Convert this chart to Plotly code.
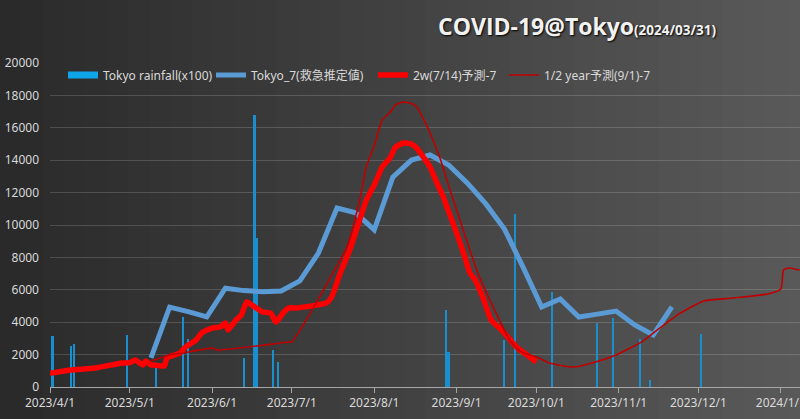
import plotly.graph_objects as go

# ---------------- data ----------------
rain_dates = ["2023-04-02", "2023-04-09", "2023-04-10", "2023-04-30", "2023-05-11",
              "2023-05-21", "2023-05-23", "2023-06-13", "2023-06-17", "2023-06-18",
              "2023-06-24", "2023-06-26", "2023-08-28", "2023-08-29", "2023-09-19",
              "2023-09-23", "2023-10-07", "2023-10-24", "2023-10-30", "2023-11-09",
              "2023-11-13", "2023-12-02"]
rain_x100 = [3150, 2530, 2650, 3210, 1230,
             4320, 2960, 1790, 16800, 9200,
             2280, 1540, 4750, 2160, 2900,
             10700, 5860, 3950, 4260, 2960,
             430, 3270]

tokyo7_dates = ["2023-05-09", "2023-05-16", "2023-05-23", "2023-05-30", "2023-06-06",
                "2023-06-13", "2023-06-20", "2023-06-27", "2023-07-04", "2023-07-11",
                "2023-07-18", "2023-07-25", "2023-08-01", "2023-08-08", "2023-08-15",
                "2023-08-22", "2023-08-29", "2023-09-05", "2023-09-12", "2023-09-19",
                "2023-09-26", "2023-10-03", "2023-10-10", "2023-10-17", "2023-10-24",
                "2023-10-31", "2023-11-07", "2023-11-14", "2023-11-21"]
tokyo7_vals = [1800, 4930, 4650, 4330, 6100,
               5950, 5880, 5930, 6550, 8270,
               11050, 10750, 9700, 12960, 14010,
               14320, 13700, 12600, 11300, 9750,
               7400, 4940, 5430, 4320, 4500,
               4690, 3830, 3210, 4940]

pred2w_dates = ["2023-04-01", "2023-04-09", "2023-04-18", "2023-04-28", "2023-05-01",
                "2023-05-03", "2023-05-06", "2023-05-07", "2023-05-09", "2023-05-10",
                "2023-05-14", "2023-05-15", "2023-05-18", "2023-05-20", "2023-05-22",
                "2023-05-26", "2023-05-28", "2023-06-01", "2023-06-04", "2023-06-06",
                "2023-06-07", "2023-06-10", "2023-06-12", "2023-06-14", "2023-06-16",
                "2023-06-20", "2023-06-23", "2023-06-25", "2023-06-28", "2023-06-30",
                "2023-07-03", "2023-07-14", "2023-07-16", "2023-07-19", "2023-07-23",
                "2023-07-26", "2023-07-29", "2023-08-01", "2023-08-04", "2023-08-07",
                "2023-08-09", "2023-08-12", "2023-08-15", "2023-08-17", "2023-08-19",
                "2023-08-22", "2023-08-24", "2023-08-27", "2023-08-29", "2023-09-01",
                "2023-09-04", "2023-09-06", "2023-09-08", "2023-09-11", "2023-09-14",
                "2023-09-18", "2023-09-24", "2023-09-27", "2023-10-01"]
pred2w_vals = [850, 1050, 1170, 1480, 1500,
               1660, 1360, 1600, 1360, 1360,
               1300, 1790, 1980, 2100, 2470,
               2900, 3330, 3640, 3700, 3950,
               3520, 4140, 4440, 5250, 5060,
               4630, 4570, 4010, 4630, 4880,
               4880, 5190, 5560, 6950, 8550,
               10050, 11540, 12470, 13580, 14150,
               14810, 15060, 15000, 14750, 14300,
               13580, 12810, 11730, 10830, 9510,
               8070, 7040, 6600, 5470, 4140,
               3500, 2400, 2040, 1540]

predhy_dates = ["2023-05-09", "2023-05-16", "2023-05-21", "2023-06-01", "2023-06-03",
                "2023-06-30", "2023-07-01", "2023-07-22", "2023-07-27", "2023-07-29",
                "2023-08-01", "2023-08-04", "2023-08-07", "2023-08-09", "2023-08-12",
                "2023-08-15", "2023-08-17", "2023-08-19", "2023-08-22", "2023-08-26",
                "2023-08-29", "2023-09-01", "2023-09-05", "2023-09-09", "2023-09-15",
                "2023-09-21", "2023-09-25", "2023-10-02", "2023-10-06", "2023-10-15",
                "2023-10-22", "2023-10-31", "2023-11-09", "2023-11-14", "2023-11-23",
                "2023-12-03", "2023-12-14", "2023-12-27", "2024-01-01", "2024-01-02",
                "2024-01-04", "2024-01-08"]
predhy_vals = [1600, 1980, 2100, 2400, 2280,
               2780, 2780, 8770, 11900, 13580,
               14900, 16480, 16960, 17410, 17590,
               17500, 17280, 16700, 15680, 14010,
               12430, 10930, 8930, 7040, 4860,
               2900, 2200, 1790, 1480, 1230,
               1480, 1980, 2720, 3330, 4440,
               5310, 5490, 5740, 6050, 7220,
               7350, 7220]

tick_dates = ["2023-04-01", "2023-05-01", "2023-06-01", "2023-07-01", "2023-08-01",
              "2023-09-01", "2023-10-01", "2023-11-01", "2023-12-01", "2024-01-01"]
tick_labels = ["2023/4/1", "2023/5/1", "2023/6/1", "2023/7/1", "2023/8/1",
               "2023/9/1", "2023/10/1", "2023/11/1", "2023/12/1", "2024/1/1"]
y_ticks = [0, 2000, 4000, 6000, 8000, 10000, 12000, 14000, 16000, 18000, 20000]

series_names = ["Tokyo rainfall(x100)", "Tokyo_7(救急推定値)", "2w(7/14)予測-7", "1/2 year予測(9/1)-7"]

# ---------------- figure ----------------
FONT = "Noto Sans, Noto Sans CJK JP, sans-serif"
fig = go.Figure()

fig.add_trace(go.Bar(x=rain_dates, y=rain_x100, name=series_names[0], showlegend=False,
                     marker=dict(color="#1a8fcf", line=dict(width=0)),
                     width=0.65 * 86400000))
# legend proxy for the rainfall bars (wide swatch)
fig.add_trace(go.Scatter(x=[None], y=[None], mode="lines", name=series_names[0],
                         line=dict(color="#0ea5e8", width=7), legendwidth=103))
fig.add_trace(go.Scatter(x=tokyo7_dates, y=tokyo7_vals, mode="lines", name=series_names[1],
                         line=dict(color="#5b9bd5", width=5), legendwidth=117))
fig.add_trace(go.Scatter(x=pred2w_dates, y=pred2w_vals, mode="lines", name=series_names[2],
                         line=dict(color="#ff0000", width=5.5, shape="spline", smoothing=0.5),
                         legendwidth=86))
fig.add_trace(go.Scatter(x=predhy_dates, y=predhy_vals, mode="lines", name=series_names[3],
                         line=dict(color="#c00000", width=1.6, shape="spline", smoothing=0.5),
                         legendwidth=112))

# background gradient
shapes = []
N = 40
x_lo, x_hi = -50 / 750, 800 / 750
y_lo, y_hi = -32 / 324, 1 + 63 / 324
c0, c1 = (42, 42, 42), (92, 92, 92)
for i in range(N):
    t = i / (N - 1)
    c = tuple(int(round(c0[k] + (c1[k] - c0[k]) * t)) for k in range(3))
    xa = x_lo + (x_hi - x_lo) * i / N
    xb = x_lo + (x_hi - x_lo) * (i + 1) / N + 0.002
    shapes.append(dict(type="rect", xref="paper", yref="paper", x0=xa, x1=xb, y0=y_lo, y1=y_hi,
                       fillcolor="rgb(%d,%d,%d)" % c, line=dict(width=0), layer="below"))

fig.update_layout(
    width=800, height=419,
    margin=dict(l=50, r=0, t=63, b=32),
    paper_bgcolor="#2a2a2a", plot_bgcolor="rgba(0,0,0,0)",
    font=dict(family=FONT, color="#d9d9d9", size=12),
    shapes=shapes,
    bargap=0,
    showlegend=True,
    legend=dict(orientation="h", x=(63 - 50) / 750, y=0.963, xanchor="left", yanchor="middle",
                bgcolor="rgba(0,0,0,0)", font=dict(size=12, color="#d9d9d9"),
                itemwidth=30, tracegroupgap=0),
    xaxis=dict(type="date", range=["2023-04-01", "2024-01-08 05:00"],
               tickvals=tick_dates, ticktext=tick_labels, showgrid=False,
               showline=True, linecolor="#a6a6a6", linewidth=1,
               ticks="outside", ticklen=5, tickcolor="#a6a6a6",
               ticklabeloverflow="allow", automargin=False,
               tickfont=dict(size=12, color="#d9d9d9"), zeroline=False),
    yaxis=dict(range=[0, 20000], tickvals=y_ticks, tickformat="d", automargin=False,
               showgrid=True, gridcolor="rgba(255,255,255,0.16)", gridwidth=1,
               zeroline=False, showline=False, ticks="", ticklabelstandoff=10,
               tickfont=dict(size=12, color="#d9d9d9")),
    annotations=[dict(xref="paper", yref="paper", x=(577 - 50) / 750, y=1 + 37 / 324,
                      xanchor="center", yanchor="middle", showarrow=False,
                      text="<b>COVID-19@Tokyo</b><span style='font-size:13.5px'><b>(2024/03/31)</b></span>",
                      font=dict(family="Open Sans, Noto Sans, sans-serif", size=23, color="#f2f2f2",
                                shadow="1px 1px 2px #000000"))],
)

fig.write_html("out.html", config={"displayModeBar": False},
               post_script="document.body.style.margin='0';document.body.style.overflow='hidden';")
